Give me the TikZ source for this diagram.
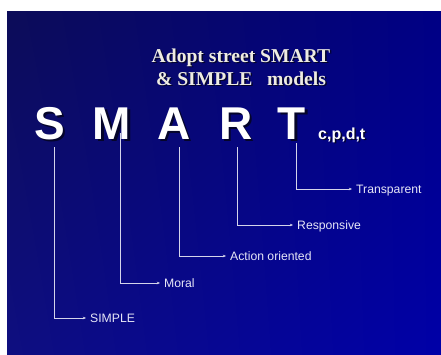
\documentclass[tikz,border=0pt]{standalone}
\usepackage{fontspec}
\setmainfont{Liberation Serif}
\setsansfont{Liberation Sans}
\usetikzlibrary{arrows.meta,shadings}

\definecolor{bgTL}{HTML}{0C0C58}
\definecolor{bgTR}{HTML}{000084}
\definecolor{bgBL}{HTML}{0E0E80}
\definecolor{bgBR}{HTML}{0000A8}
\definecolor{linec}{HTML}{D4D4EA}
\definecolor{labelc}{HTML}{E6E6F6}
\definecolor{titlec}{HTML}{EEECE2}
\definecolor{shadowc}{HTML}{05052A}

\begin{document}
\begin{tikzpicture}[x=1pt,y=-1pt,
  bigletter/.style={font=\sffamily\bfseries\fontsize{46}{46}\selectfont,
    text=white, anchor=base, inner sep=0pt},
  bigshadow/.style={bigletter, text=shadowc},
  subtext/.style={font=\sffamily\bfseries\fontsize{16}{16}\selectfont,
    text=white, anchor=base west, inner sep=0pt},
  subshadow/.style={subtext, text=shadowc},
  titletext/.style={font=\rmfamily\bfseries\fontsize{19.6}{19.6}\selectfont,
    text=titlec, anchor=base, inner sep=0pt},
  titleshadow/.style={titletext, text=shadowc},
  lab/.style={font=\sffamily\fontsize{12.2}{12.2}\selectfont, text=labelc,
    anchor=west, inner xsep=4pt, inner ysep=0pt,
    text height=8.7pt, text depth=0pt},
  conn/.style={draw=linec, line width=0.8pt,
    -{Stealth[length=3.2pt,width=2.6pt]}}]

% page and slide background
\useasboundingbox (0,0) rectangle (441,354);
\fill[white] (0,0) rectangle (441,354);
\shade[upper left=bgTL, upper right=bgTR, lower left=bgBL, lower right=bgBR]
  (7,11) rectangle (441,354);

% heading
\node[titleshadow] at (242.5,63.5) {Adopt street SMART};
\node[titletext] (title1) at (241,62) {Adopt street SMART};
\node[titleshadow] at (242.5,86.5) {\&\ SIMPLE\ \ \ models};
\node[titletext] (title2) at (241,85) {\&\ SIMPLE\ \ \ models};

% the big letters
\foreach \name/\ch/\x in {S/S/50, M/M/112, A/A/174, R/R/236, T/T/292}{
  \node[bigshadow] at (\x+2.2,141.2) {\ch};
  \node[bigletter] (\name) at (\x,139) {\ch};
}
\node[subshadow] at (319.5,140.5) {c,p,d,t};
\node[subtext] (cpdt) at (318,139) {c,p,d,t};

% connector start points below the letters
\coordinate (sS) at (54,147);
\coordinate (sM) at (120,133);
\coordinate (sA) at (179,147);
\coordinate (sR) at (237,147);
\coordinate (sT) at (296,143);

% labels
\node[lab] (lS) at (86,318) {SIMPLE};
\node[lab] (lM) at (160,283) {Moral};
\node[lab] (lA) at (226,256) {Action oriented};
\node[lab] (lR) at (293,225) {Responsive};
\node[lab] (lT) at (352,189) {Transparent};

% connectors
\draw[conn] (sS) |- (lS.west);
\draw[conn] (sM) |- (lM.west);
\draw[conn] (sA) |- (lA.west);
\draw[conn] (sR) |- (lR.west);
\draw[conn] (sT) |- (lT.west);
\end{tikzpicture}
\end{document}
